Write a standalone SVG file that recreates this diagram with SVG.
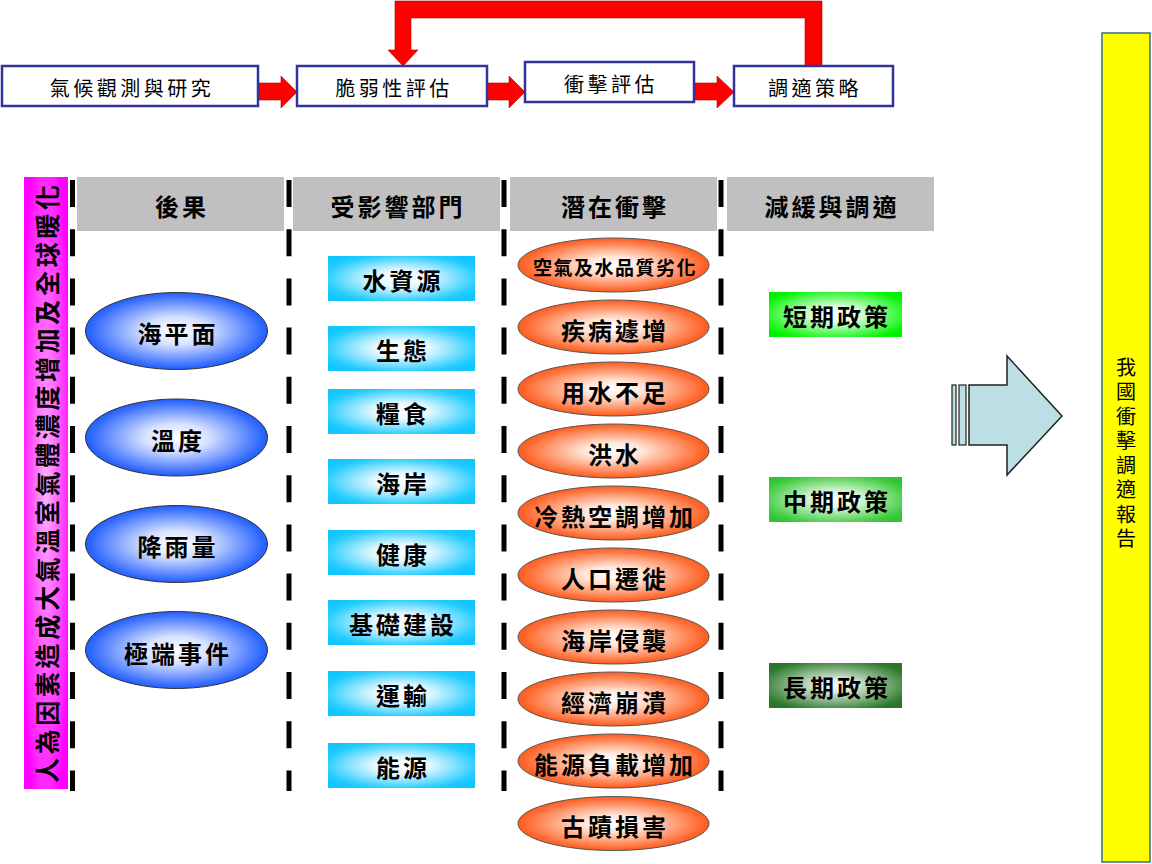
<svg xmlns="http://www.w3.org/2000/svg" width="1152" height="864" viewBox="0 0 1152 864">
<defs>
<radialGradient id="gBlue" cx="0.5" cy="0.5" r="0.5"><stop offset="0" stop-color="#ffffff"/><stop offset="0.35" stop-color="#d8e2ff"/><stop offset="1" stop-color="#1f5cff"/></radialGradient>
<radialGradient id="gOrange" cx="0.5" cy="0.5" r="0.5"><stop offset="0" stop-color="#ffffff"/><stop offset="0.3" stop-color="#ffe6da"/><stop offset="1" stop-color="#ff5a1a"/></radialGradient>
<radialGradient id="gCyan" cx="0.5" cy="0.5" r="0.62"><stop offset="0" stop-color="#ffffff"/><stop offset="0.3" stop-color="#e6f8ff"/><stop offset="0.85" stop-color="#22ccff"/><stop offset="1" stop-color="#11c6ff"/></radialGradient>
<radialGradient id="gMag" cx="0.5" cy="0.5" r="0.6"><stop offset="0" stop-color="#ffb0ff"/><stop offset="0.85" stop-color="#ff22ff"/><stop offset="1" stop-color="#ff00ff"/></radialGradient>
<radialGradient id="gG1" cx="0.5" cy="0.5" r="0.62"><stop offset="0" stop-color="#ffffff"/><stop offset="0.25" stop-color="#e8ffe8"/><stop offset="0.9" stop-color="#11f511"/><stop offset="1" stop-color="#00ee00"/></radialGradient>
<radialGradient id="gG2" cx="0.5" cy="0.5" r="0.62"><stop offset="0" stop-color="#ffffff"/><stop offset="0.25" stop-color="#e6f8e6"/><stop offset="0.9" stop-color="#3ccb3c"/><stop offset="1" stop-color="#33c433"/></radialGradient>
<radialGradient id="gG3" cx="0.5" cy="0.5" r="0.62"><stop offset="0" stop-color="#ffffff"/><stop offset="0.2" stop-color="#e4ece4"/><stop offset="0.9" stop-color="#337f33"/><stop offset="1" stop-color="#2b742b"/></radialGradient>
</defs>
<style>
text{font-family:"Noto Sans CJK TC","Noto Sans CJK SC",sans-serif;fill:#000;text-anchor:middle;dominant-baseline:central}
.top{fill:#fff;stroke:#333399;stroke-width:2.5}
.tt{font-size:20px;letter-spacing:3.5px}
.red{fill:#ff0000;stroke:#b00000;stroke-width:0.6}
.hdr{fill:#c0c0c0}
.b{font-size:24px;font-weight:bold;letter-spacing:3px}
.dash{stroke:#000;stroke-width:5;stroke-dasharray:27 22.2;fill:none}
.be{fill:url(#gBlue);stroke:#333;stroke-width:1}
.oe{fill:url(#gOrange);stroke:#555;stroke-width:1}
.cr{fill:url(#gCyan)}
.vert{writing-mode:vertical-rl;font-size:20px;letter-spacing:4.5px}
</style>

<g id="connectors">
<polygon class="red" points="258,83 281,83 281,76 297,92 281,108 281,100 258,100"/>
<polygon class="red" points="487,83 509,83 509,76 525,92 509,108 509,100 487,100"/>
<polygon class="red" points="694,83 717,83 717,76 734,92 717,108 717,100 694,100"/>
<polygon class="red" points="403,66 388,50 395,50 395,1 822,1 822,66 805,66 805,18 411,18 411,50 418,50"/>
<polygon fill="#bcdfe3" stroke="#222" stroke-width="1.5" points="969,385 1007,385 1007,356 1062,416 1007,475 1007,445 969,445"/>
<rect x="952" y="385" width="4" height="60" fill="#bcdfe3" stroke="#222" stroke-width="1.2"/>
<rect x="959" y="385" width="7" height="60" fill="#bcdfe3" stroke="#222" stroke-width="1.2"/>
</g>

<g id="top1"><rect class="top" x="2" y="66" width="256" height="40"/><text class="tt" x="132" y="87">氣候觀測與研究</text></g>
<g id="top2"><rect class="top" x="297" y="66" width="190" height="40"/><text class="tt" x="394" y="87">脆弱性評估</text></g>
<g id="top3"><rect class="top" x="525" y="62" width="169" height="40"/><text class="tt" x="611" y="83">衝擊評估</text></g>
<g id="top4"><rect class="top" x="734" y="66" width="159" height="40"/><text class="tt" x="815" y="87">調適策略</text></g>

<g id="magenta"><rect x="24" y="177" width="44" height="612" fill="url(#gMag)"/>
<text transform="translate(46,484) rotate(-90)" font-size="25" font-weight="bold" textLength="598" lengthAdjust="spacing">人為因素造成大氣溫室氣體濃度增加及全球暖化</text></g>

<g id="dashes">
<line class="dash" x1="72.5" y1="180" x2="72.5" y2="791"/>
<line class="dash" x1="289" y1="180" x2="289" y2="791"/>
<line class="dash" x1="504" y1="180" x2="504" y2="791"/>
<line class="dash" x1="721" y1="180" x2="721" y2="791"/>
</g>

<g id="h1"><rect class="hdr" x="77" y="177" width="207" height="54"/><text class="b" x="182" y="205">後果</text></g>
<g id="h2"><rect class="hdr" x="293" y="177" width="207" height="54"/><text class="b" x="398" y="205">受影響部門</text></g>
<g id="h3"><rect class="hdr" x="510" y="177" width="207" height="54"/><text class="b" x="615" y="205">潛在衝擊</text></g>
<g id="h4"><rect class="hdr" x="727" y="177" width="207" height="54"/><text class="b" x="832" y="205">減緩與調適</text></g>

<g id="e1"><ellipse class="be" cx="176.5" cy="331" rx="91" ry="38.5"/><text class="b" x="178" y="332">海平面</text></g>
<g id="e2"><ellipse class="be" cx="176.5" cy="437.5" rx="91" ry="38.5"/><text class="b" x="178" y="439">溫度</text></g>
<g id="e3"><ellipse class="be" cx="176.5" cy="544" rx="91" ry="38.5"/><text class="b" x="178" y="545">降雨量</text></g>
<g id="e4"><ellipse class="be" cx="176.5" cy="650" rx="91" ry="38.5"/><text class="b" x="178" y="652">極端事件</text></g>

<g id="c1"><rect class="cr" x="328" y="256" width="147" height="45"/><text class="b" x="403" y="279">水資源</text></g>
<g id="c2"><rect class="cr" x="328" y="326" width="147" height="45"/><text class="b" x="403" y="349">生態</text></g>
<g id="c3"><rect class="cr" x="328" y="389" width="147" height="45"/><text class="b" x="403" y="412">糧食</text></g>
<g id="c4"><rect class="cr" x="328" y="459" width="147" height="45"/><text class="b" x="403" y="482">海岸</text></g>
<g id="c5"><rect class="cr" x="328" y="530" width="147" height="45"/><text class="b" x="403" y="553">健康</text></g>
<g id="c6"><rect class="cr" x="328" y="600" width="147" height="45"/><text class="b" x="403" y="623">基礎建設</text></g>
<g id="c7"><rect class="cr" x="328" y="671" width="147" height="45"/><text class="b" x="403" y="694">運輸</text></g>
<g id="c8"><rect class="cr" x="328" y="743" width="147" height="45"/><text class="b" x="403" y="766">能源</text></g>

<g id="o1"><ellipse class="oe" cx="613.5" cy="265" rx="95.5" ry="27"/><text x="615" y="266" font-size="19" font-weight="bold" letter-spacing="1.5">空氣及水品質劣化</text></g>
<g id="o2"><ellipse class="oe" cx="613.5" cy="327" rx="95.5" ry="27"/><text class="b" x="615" y="329">疾病遽增</text></g>
<g id="o3"><ellipse class="oe" cx="613.5" cy="389" rx="95.5" ry="27"/><text class="b" x="615" y="391">用水不足</text></g>
<g id="o4"><ellipse class="oe" cx="613.5" cy="451" rx="95.5" ry="27"/><text class="b" x="615" y="453">洪水</text></g>
<g id="o5"><ellipse class="oe" cx="613.5" cy="513" rx="95.5" ry="27"/><text class="b" x="615" y="515">冷熱空調增加</text></g>
<g id="o6"><ellipse class="oe" cx="613.5" cy="575" rx="95.5" ry="27"/><text class="b" x="615" y="577">人口遷徙</text></g>
<g id="o7"><ellipse class="oe" cx="613.5" cy="637" rx="95.5" ry="27"/><text class="b" x="615" y="639">海岸侵襲</text></g>
<g id="o8"><ellipse class="oe" cx="613.5" cy="699" rx="95.5" ry="27"/><text class="b" x="615" y="701">經濟崩潰</text></g>
<g id="o9"><ellipse class="oe" cx="613.5" cy="761" rx="95.5" ry="27"/><text class="b" x="615" y="763">能源負載增加</text></g>
<g id="o10"><ellipse class="oe" cx="613.5" cy="823.5" rx="95.5" ry="27"/><text class="b" x="615" y="825">古蹟損害</text></g>

<g id="p1"><rect x="769" y="292" width="133" height="45" fill="url(#gG1)"/><text class="b" x="837" y="315">短期政策</text></g>
<g id="p2"><rect x="769" y="477" width="133" height="45" fill="url(#gG2)"/><text class="b" x="837" y="500">中期政策</text></g>
<g id="p3"><rect x="769" y="663" width="133" height="45" fill="url(#gG3)"/><text class="b" x="837" y="686">長期政策</text></g>

<g id="report"><rect x="1102" y="33" width="48" height="829" fill="#ffff00" stroke="#3d6a8a" stroke-width="1.5"/>
<text class="vert" x="1126" y="455">我國衝擊調適報告</text></g>
</svg>
